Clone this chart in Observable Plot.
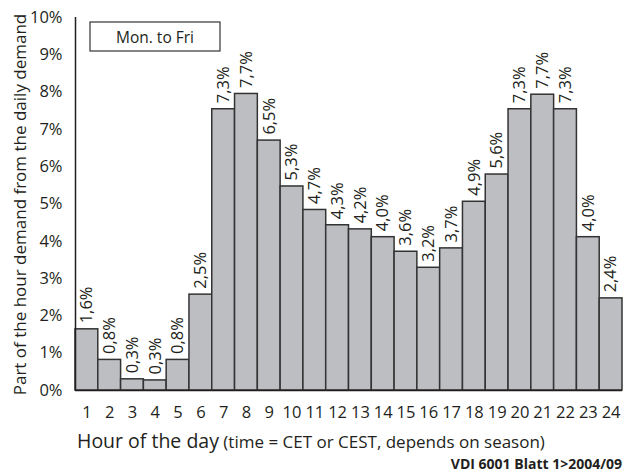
<!DOCTYPE html>
<html><head><meta charset="utf-8">
<script src="https://cdn.jsdelivr.net/npm/d3@7"></script>
<script src="https://cdn.jsdelivr.net/npm/@observablehq/plot@0.6"></script>
<style>body{margin:0;background:#fff} svg{display:block} #chart{width:628px;height:474px}</style>
</head><body><div id="chart"></div><script>
const hours = [1,2,3,4,5,6,7,8,9,10,11,12,13,14,15,16,17,18,19,20,21,22,23,24];
// bar heights as drawn (%)
const barShare = [1.64,0.82,0.30,0.27,0.82,2.57,7.54,7.95,6.70,5.47,4.84,4.43,4.32,4.11,3.72,3.29,3.81,5.06,5.79,7.54,7.93,7.54,4.11,2.47];
// printed value labels (%)
const labelShare = [1.6,0.8,0.3,0.3,0.8,2.5,7.3,7.7,6.5,5.3,4.7,4.3,4.2,4.0,3.6,3.2,3.7,4.9,5.6,7.3,7.7,7.3,4.0,2.4];
const yTicks = [0,1,2,3,4,5,6,7,8,9,10];
const yLabel = "Part of the hour demand from the daily demand";
const xLabelMain = "Hour of the day";
const xLabelNote = " (time = CET or CEST, depends on season)";
const boxText = "Mon. to Fri";
const caption = "VDI 6001 Blatt 1>2004/09";

const data = hours.map((h, i) => ({hour: h, bar: barShare[i], label: labelShare[i]}));
const fmt = v => v.toFixed(1).replace(".", ",") + "%";
const FONT = "Open Sans";

const W = 628, H = 474, mL = 75, mR = 6, mT = 17, mB = 84;

const plot = Plot.plot({
  width: W, height: H,
  marginLeft: mL, marginRight: mR, marginTop: mT, marginBottom: mB,
  style: {fontFamily: FONT, fontSize: "16.5px", color: "#231f20", background: "#fff"},
  x: {domain: [0.5, 24.5], ticks: hours, tickFormat: d => String(d), tickSize: 0, tickPadding: 16, label: null},
  y: {domain: [0, 10], ticks: yTicks, tickFormat: d => d + "%", tickSize: 0, tickPadding: 13, label: null},
  marks: [
    Plot.rectY(data, {x1: d => d.hour - 0.5, x2: d => d.hour + 0.5, y1: 0, y2: "bar", fill: "#bcbec1", stroke: "#333", strokeWidth: 1.5}),
    Plot.ruleX([0.5], {y1: 0, y2: 10, stroke: "#231f20", strokeWidth: 1.5}),
    Plot.ruleY([0], {stroke: "#231f20", strokeWidth: 1.5}),
    Plot.text(data, {x: "hour", y: "bar", text: d => fmt(d.label), rotate: -90, textAnchor: "start", dy: -6, fontSize: 16.5, fill: "#231f20"})
  ]
});

const svg = d3.select(plot);
// y axis title
svg.append("text")
  .attr("transform", `translate(19,${(mT + H - mB) / 2 + 1}) rotate(-90)`)
  .attr("text-anchor", "middle").attr("dominant-baseline", "central")
  .attr("font-family", FONT).attr("font-size", 17).attr("fill", "#231f20")
  .text(yLabel);
// x axis title
const xt = svg.append("text").attr("x", 77).attr("y", 448).attr("text-anchor", "start")
  .attr("font-family", FONT).attr("fill", "#231f20");
xt.append("tspan").attr("font-size", 19.5).text(xLabelMain);
xt.append("tspan").attr("font-size", 17).text(xLabelNote);
// caption
svg.append("text").attr("x", 622).attr("y", 469).attr("text-anchor", "end")
  .attr("font-family", FONT).attr("font-weight", "bold").attr("font-size", 14).attr("fill", "#231f20")
  .text(caption);
// legend box
svg.append("rect").attr("x", 90).attr("y", 22).attr("width", 130).attr("height", 29)
  .attr("fill", "#fff").attr("stroke", "#333").attr("stroke-width", 1.2);
svg.append("text").attr("x", 155).attr("y", 37).attr("text-anchor", "middle").attr("dominant-baseline", "central")
  .attr("font-family", FONT).attr("font-size", 15.5).attr("fill", "#231f20").text(boxText);

document.getElementById("chart").appendChild(plot);
</script></body></html>
